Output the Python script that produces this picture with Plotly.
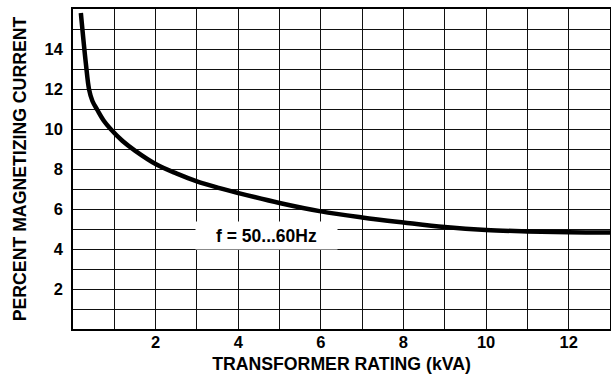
import plotly.graph_objects as go

# Magnetizing current vs. transformer rating
rating_kva = [0.19, 0.31, 0.39, 0.47, 0.59, 0.75, 0.91, 1.2, 1.5, 2.0, 2.5, 3.0,
              3.5, 4.0, 5.0, 6.0, 7.0, 8.0, 9.0, 10.0, 11.0, 12.0, 13.0]
magnetizing_pct = [15.8, 13.3, 11.97, 11.4, 10.95, 10.4, 10.0, 9.4, 8.92, 8.25, 7.78, 7.38,
                   7.07, 6.8, 6.3, 5.88, 5.58, 5.33, 5.1, 4.95, 4.88, 4.84, 4.83]

x_ticks = [2, 4, 6, 8, 10, 12]
y_ticks = [2, 4, 6, 8, 10, 12, 14]

label_text = "f = 50...60Hz"
label_x, label_y = 4.69, 4.7

FONT = "Liberation Sans, Arial, Helvetica, sans-serif"

fig = go.Figure()
fig.add_trace(go.Scatter(
    x=rating_kva, y=magnetizing_pct, mode="lines",
    line=dict(color="black", width=4.5, shape="spline", smoothing=1.0),
    hoverinfo="skip", showlegend=False,
))

fig.add_annotation(
    x=label_x, y=label_y, xref="x", yref="y", text=label_text, showarrow=False,
    font=dict(family=FONT, size=17.5, color="black", weight="bold"),
    bgcolor="white", borderpad=0, width=141, height=27,
)

axis_common = dict(
    showline=True, mirror=True, linecolor="black", linewidth=1.5,
    showgrid=True, gridcolor="#111", gridwidth=1.2,
    zeroline=False, ticks="",
    tickfont=dict(family=FONT, size=16.5, color="black", weight="bold"),
)

fig.update_xaxes(
    range=[0, 13], tickmode="array", tickvals=x_ticks,
    minor=dict(dtick=1, tick0=0, showgrid=True, gridcolor="#111", gridwidth=1.2),
    ticklabelstandoff=-3,
    title=dict(text="TRANSFORMER RATING (kVA)", standoff=8,
               font=dict(family=FONT, size=17.7, color="black", weight="bold")),
    **axis_common,
)
fig.update_yaxes(
    range=[0, 16], tickmode="array", tickvals=y_ticks,
    minor=dict(dtick=1, tick0=0, showgrid=True, gridcolor="#111", gridwidth=1.2),
    ticklabelstandoff=5,
    title=dict(text="PERCENT MAGNETIZING CURRENT", standoff=13,
               font=dict(family=FONT, size=17.7, color="black", weight="bold")),
    **axis_common,
)

fig.update_layout(
    width=611, height=376,
    margin=dict(l=73, r=1, t=9, b=47, autoexpand=False),
    paper_bgcolor="white", plot_bgcolor="white",
)

fig.write_html("out.html")
